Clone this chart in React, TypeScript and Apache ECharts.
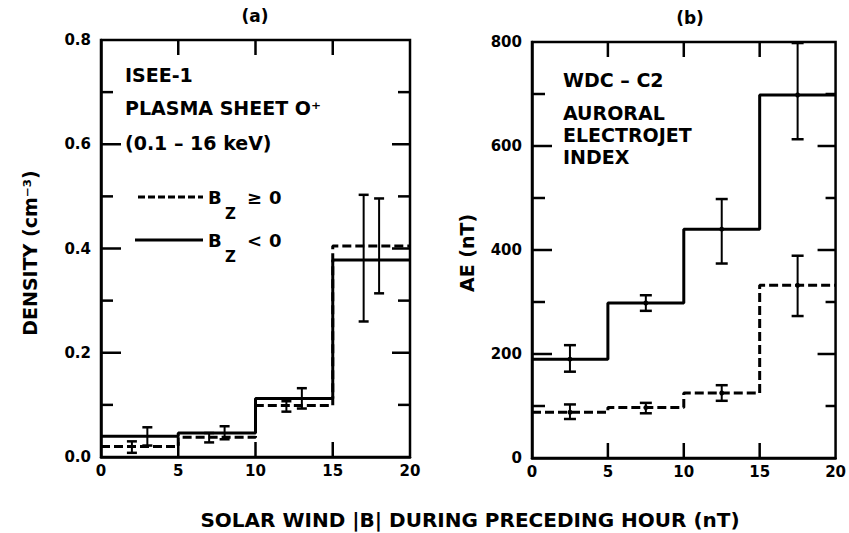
import React, { useEffect, useRef } from "react";
import * as echarts from "echarts";

// Bin edges of solar wind |B| (nT)
const binEdges = [0, 5, 10, 15, 20];
const xTickValues = [0, 5, 10, 15, 20];

// Panel (a): plasma sheet O+ density (cm^-3)
const densityTickValues = [0, 0.1, 0.2, 0.3, 0.4, 0.5, 0.6, 0.7, 0.8];
const densityBzNeg = [0.04, 0.046, 0.112, 0.378];
const densityBzPos = [0.02, 0.038, 0.099, 0.405];
const densityNegErrX = [3, 8, 13, 17];
const densityNegErrLow = [0.022, 0.034, 0.093, 0.26];
const densityNegErrHigh = [0.057, 0.059, 0.132, 0.503];
const densityPosErrX = [2, 7, 12, 18];
const densityPosErrLow = [0.008, 0.028, 0.087, 0.314];
const densityPosErrHigh = [0.03, 0.046, 0.107, 0.496];

// Panel (b): AE index (nT)
const aeTickValues = [0, 100, 200, 300, 400, 500, 600, 700, 800];
const aeBzNeg = [190, 298, 440, 698];
const aeBzPos = [88, 97, 125, 332];
const aeErrX = [2.5, 7.5, 12.5, 17.5];
const aeNegErrLow = [166, 283, 374, 613];
const aeNegErrHigh = [217, 313, 498, 798];
const aePosErrLow = [75, 86, 110, 273];
const aePosErrHigh = [103, 106, 140, 389];

const FONT = "DejaVu Sans";
const INK = "#000";
const X_MIN = xTickValues[0];
const X_MAX = xTickValues[xTickValues.length - 1];

function stepData(vals: number[]) {
  return binEdges.map((x, i) => [x, vals[Math.min(i, vals.length - 1)]]);
}
function binValue(vals: number[], x: number) {
  const i = Math.min(Math.floor(x / 5), vals.length - 1);
  return vals[i];
}
function errData(xs: number[], lo: number[], hi: number[], vals: number[]) {
  return xs.map((x, i) => [x, lo[i], hi[i], binValue(vals, x)]);
}

function errRender(cap: number, dot: boolean) {
  return (params: any, api: any) => {
    const x = api.value(0);
    const p1 = api.coord([x, api.value(1)]);
    const p2 = api.coord([x, api.value(2)]);
    const pm = api.coord([x, api.value(3)]);
    const children: any[] = [
      { type: "line", shape: { x1: p1[0], y1: p1[1], x2: p2[0], y2: p2[1] }, style: { stroke: INK, lineWidth: 2 } },
      { type: "line", shape: { x1: p1[0] - cap / 2, y1: p1[1], x2: p1[0] + cap / 2, y2: p1[1] }, style: { stroke: INK, lineWidth: 2.5 } },
      { type: "line", shape: { x1: p2[0] - cap / 2, y1: p2[1], x2: p2[0] + cap / 2, y2: p2[1] }, style: { stroke: INK, lineWidth: 2.5 } },
    ];
    if (dot) {
      children.push({ type: "circle", shape: { cx: pm[0], cy: pm[1], r: 2.5 }, style: { fill: INK } });
    }
    return { type: "group", children };
  };
}

const labelStyle = { fontFamily: FONT, fontWeight: "bold" as const, fontSize: 15, color: INK };
const axisLineStyle = { show: true, lineStyle: { color: INK, width: 2.5 } };

function xAxis(gridIndex: number) {
  return {
    type: "value",
    gridIndex,
    min: X_MIN,
    max: X_MAX,
    interval: 5,
    splitLine: { show: false },
    axisLine: axisLineStyle,
    axisTick: { show: false },
    axisLabel: { ...labelStyle, margin: 6 },
  };
}

function yAxis(gridIndex: number, max: number, interval: number, fmt: (v: number) => string) {
  return {
    type: "value",
    gridIndex,
    min: 0,
    max,
    interval,
    splitLine: { show: false },
    axisLine: axisLineStyle,
    axisTick: { show: false },
    axisLabel: { ...labelStyle, margin: 10, formatter: fmt },
  };
}

function txt(text: string, x: number, y: number, size: number, extra: any = {}, rotation = 0) {
  return {
    type: "text",
    x,
    y,
    rotation,
    style: {
      text,
      fontFamily: FONT,
      fontWeight: "bold",
      fontSize: size,
      fill: INK,
      align: "left",
      verticalAlign: "middle",
      ...extra,
    },
  };
}

function seg(x1: number, y1: number, x2: number, y2: number) {
  return { type: "line", z: 100, shape: { x1, y1, x2, y2 }, style: { stroke: INK, lineWidth: 2.5 } };
}

// Frame ticks, placed with the chart's own axis scales (convertToPixel)
function frameTicks(
  chart: any,
  axisIdx: number,
  yTicks: number[],
  majorStep: number,
  lens: { lMajor: number; lMinor: number; rMajor: number; rMinor: number; x: number }
) {
  const finder = { xAxisIndex: axisIdx, yAxisIndex: axisIdx };
  const yMin = yTicks[0];
  const yMax = yTicks[yTicks.length - 1];
  const out: any[] = [];
  yTicks.slice(1, -1).forEach((v) => {
    const pl = chart.convertToPixel(finder, [X_MIN, v]);
    const pr = chart.convertToPixel(finder, [X_MAX, v]);
    const r = v / majorStep;
    const major = Math.abs(r - Math.round(r)) < 1e-6;
    const lw = major ? lens.lMajor : lens.lMinor;
    const rw = major ? lens.rMajor : lens.rMinor;
    out.push(seg(pl[0], pl[1], pl[0] + lw, pl[1]));
    out.push(seg(pr[0] - rw, pr[1], pr[0], pr[1]));
  });
  xTickValues.slice(1, -1).forEach((v) => {
    const pb = chart.convertToPixel(finder, [v, yMin]);
    const pt = chart.convertToPixel(finder, [v, yMax]);
    out.push(seg(pt[0], pt[1], pt[0], pt[1] + lens.x));
    out.push(seg(pb[0], pb[1] - lens.x, pb[0], pb[1]));
  });
  return out;
}

export default function App() {
  const ref = useRef<HTMLDivElement>(null);
  useEffect(() => {
    if (!ref.current) return;
    const chart = echarts.init(ref.current, null, { renderer: "svg" });
    const solid = { color: INK, width: 3, type: "solid" as const };
    const dashed = { color: INK, width: 3, type: [9, 4] as any };
    const dMax = densityTickValues[densityTickValues.length - 1];
    const aMax = aeTickValues[aeTickValues.length - 1];
    const frame = { show: true, borderColor: INK, borderWidth: 2.5, backgroundColor: "transparent" };
    const texts: any[] = [
      txt("(a)", 255, 16, 17, { align: "center" }),
      txt("(b)", 690, 18, 17, { align: "center" }),
      txt("ISEE-1", 125, 75, 19),
      txt("PLASMA SHEET O⁺", 125, 108, 19),
      txt("(0.1 – 16 keV)", 125, 143, 19),
      { type: "line", shape: { x1: 138, y1: 197, x2: 203, y2: 197 }, style: { stroke: INK, lineWidth: 3, lineDash: [7, 3] } },
      txt("B", 208, 197, 18),
      txt("Z", 225, 214, 15),
      txt("≥", 247, 197, 18),
      txt("0", 269, 197, 18),
      { type: "line", shape: { x1: 135, y1: 240, x2: 203, y2: 240 }, style: { stroke: INK, lineWidth: 3 } },
      txt("B", 208, 240, 18),
      txt("Z", 225, 257, 15),
      txt("<", 247, 240, 18),
      txt("0", 269, 240, 18),
      txt("WDC – C2", 563, 80, 19),
      txt("AURORAL", 563, 113, 19),
      txt("ELECTROJET", 563, 135, 19),
      txt("INDEX", 563, 157, 19),
      txt("DENSITY (cm⁻³)", 30, 253, 19, { align: "center" }, Math.PI / 2),
      txt("AE (nT)", 467, 253, 19, { align: "center" }, Math.PI / 2),
      txt("SOLAR WIND |B| DURING PRECEDING HOUR (nT)", 470, 520, 20, { align: "center" }),
    ];
    const option: any = {
      animation: false,
      backgroundColor: "#fff",
      grid: [
        { ...frame, left: 101, top: 40, width: 309, height: 417 },
        { ...frame, left: 532, top: 42, width: 310, height: 416 },
      ],
      xAxis: [xAxis(0), xAxis(1)],
      yAxis: [
        yAxis(0, dMax, 0.2, (v: number) => v.toFixed(1)),
        yAxis(1, aMax, 200, (v: number) => String(v)),
      ],
      series: [
        // panel (a)
        { type: "line", xAxisIndex: 0, yAxisIndex: 0, step: "end", data: stepData(densityBzNeg), showSymbol: false, lineStyle: solid, z: 3 },
        { type: "line", xAxisIndex: 0, yAxisIndex: 0, step: "end", data: stepData(densityBzPos), showSymbol: false, lineStyle: dashed, z: 3 },
        { type: "custom", xAxisIndex: 0, yAxisIndex: 0, data: errData(densityNegErrX, densityNegErrLow, densityNegErrHigh, densityBzNeg), renderItem: errRender(10, false), z: 2 },
        { type: "custom", xAxisIndex: 0, yAxisIndex: 0, data: errData(densityPosErrX, densityPosErrLow, densityPosErrHigh, densityBzPos), renderItem: errRender(10, false), z: 2 },
        // panel (b)
        { type: "line", xAxisIndex: 1, yAxisIndex: 1, step: "end", data: stepData(aeBzNeg), showSymbol: false, lineStyle: solid, z: 3 },
        { type: "line", xAxisIndex: 1, yAxisIndex: 1, step: "end", data: stepData(aeBzPos), showSymbol: false, lineStyle: dashed, z: 3 },
        { type: "custom", xAxisIndex: 1, yAxisIndex: 1, data: errData(aeErrX, aeNegErrLow, aeNegErrHigh, aeBzNeg), renderItem: errRender(12, true), z: 2 },
        { type: "custom", xAxisIndex: 1, yAxisIndex: 1, data: errData(aeErrX, aePosErrLow, aePosErrHigh, aeBzPos), renderItem: errRender(12, true), z: 2 },
      ],
      graphic: texts,
    };
    chart.setOption(option);
    const ticks = [
      ...frameTicks(chart, 0, densityTickValues, 0.2, { lMajor: 20, lMinor: 12, rMajor: 18, rMinor: 12, x: 15 }),
      ...frameTicks(chart, 1, aeTickValues, 200, { lMajor: 20, lMinor: 13, rMajor: 18, rMinor: 10, x: 15 }),
    ];
    chart.setOption({ graphic: [...texts, ...ticks] });
    return () => chart.dispose();
  }, []);
  return (
    <div
      ref={ref}
      style={{ position: "fixed", left: 0, top: 0, width: 849, height: 533, background: "#fff" }}
    />
  );
}
